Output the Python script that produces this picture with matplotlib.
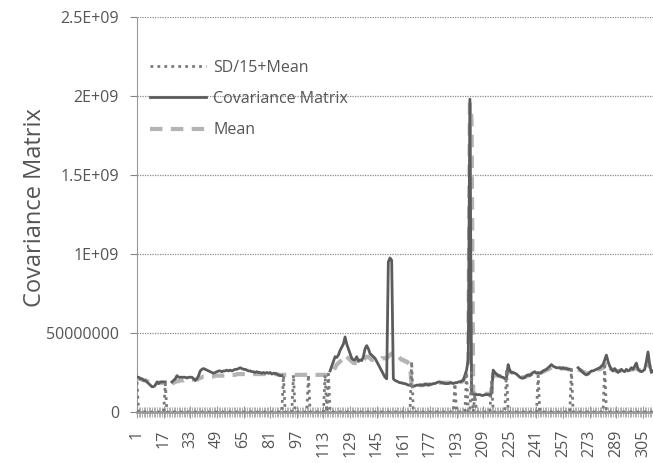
import numpy as np
import matplotlib
matplotlib.use('Agg')
import matplotlib.pyplot as plt

nan = np.nan

# covariance matrix value per window (units of 1e8)
cov = [
    2.2, 2.2, 2.1, 2.1, 2.0, 2.0, 1.9, 1.8, 1.7, 1.6,        # 1
    1.6, 1.7, 1.9, 1.8, 1.9, 1.9, 1.9, 1.9, nan, nan,        # 11
    nan, 1.9, 2.0, 2.1, 2.3, 2.2, 2.2, 2.2, 2.2, 2.2,        # 21
    2.15, 2.2, 2.2, 2.2, 2.1, 2.0, 2.1, 2.3, 2.6, 2.7,       # 31
    2.75, 2.7, 2.65, 2.6, 2.55, 2.5, 2.45, 2.5, 2.55, 2.6,   # 41
    2.6, 2.55, 2.6, 2.6, 2.65, 2.6, 2.65, 2.6, 2.65, 2.7,    # 51
    2.7, 2.75, 2.8, 2.75, 2.7, 2.7, 2.65, 2.6, 2.6, 2.55,    # 61
    2.55, 2.5, 2.55, 2.5, 2.5, 2.45, 2.5, 2.45, 2.5, 2.45,   # 71
    2.5, 2.4, 2.45, 2.45, 2.4, 2.35, 2.3, 2.3, nan, nan,     # 81
    nan, nan, nan, nan, nan, nan, nan, nan, nan, nan,        # 91
    nan, nan, nan, nan, nan, nan, nan, nan, nan, nan,        # 101
    nan, nan, nan, nan, nan, nan, 2.6, 2.9, 3.2, 3.5,        # 111
    3.45, 3.6, 3.9, 4.1, 4.3, 4.75, 4.3, 4.0, 3.7, 3.4,      # 121
    3.3, 3.3, 3.5, 3.2, 3.3, 3.25, 3.5, 4.0, 4.2, 4.0,       # 131
    3.7, 3.6, 3.5, 3.4, 3.2, 3.0, 2.8, 2.6, 2.4, 2.2,        # 141
    2.1, 9.5, 9.75, 9.6, 2.1, 2.0, 1.95, 1.9, 1.85, 1.85,    # 151
    1.8, 1.8, 1.75, 1.7, 1.7, 1.65, 1.65, 1.65, 1.7, 1.7,    # 161
    1.7, 1.7, 1.7, 1.75, 1.75, 1.7, 1.75, 1.75, 1.8, 1.8,    # 171
    1.85, 1.9, 1.9, 1.85, 1.85, 1.8, 1.8, 1.8, 1.85, 1.85,   # 181
    1.8, 1.85, 1.85, 1.9, 1.9, 1.95, 2.0, 2.3, 2.65, 3.3,    # 191
    19.8, 1.2, 1.15, 1.1, 1.1, 1.1, 1.1, 1.05, 1.05, 1.1,    # 201
    1.1, 1.1, 1.05, 1.2, 2.65, 2.5, 2.4, 2.3, 2.3, 2.2,      # 211
    2.2, 2.1, 2.2, 3.0, 2.6, 2.5, 2.5, 2.45, 2.4, 2.3,       # 221
    2.2, 2.15, 2.15, 2.2, 2.3, 2.35, 2.3, 2.4, 2.5, 2.55,    # 231
    2.45, 2.5, 2.45, 2.5, 2.6, 2.65, 2.7, 2.8, 2.9, 3.0,     # 241
    2.9, 2.85, 2.8, 2.8, 2.8, 2.75, 2.8, 2.75, 2.75, 2.7,    # 251
    2.7, nan, nan, nan, nan, 2.8, 2.7, 2.6, 2.5, 2.4,        # 261
    2.35, 2.4, 2.5, 2.6, 2.6, 2.65, 2.7, 2.75, 2.8, 2.9,     # 271
    3.0, 3.3, 3.6, 3.2, 2.9, 2.7, 2.6, 2.75, 2.6, 2.5,       # 281
    2.6, 2.7, 2.6, 2.55, 2.7, 2.6, 2.65, 2.8, 2.7, 2.9,      # 291
    3.1, 2.7, 2.6, 2.55, 2.6, 2.7, 3.2, 3.8, 3.0, 2.5,       # 301
    2.6,                                                     # 311
]

mean = [
    2.1, 2.1, 2.1, 2.05, 2.0, 2.0, 1.95, 1.9, 1.85, 1.85,
    1.85, 1.85, 1.85, 1.85, 1.85, 1.85, 1.85, 1.85, nan, nan,
    nan, 1.8, 1.85, 1.9, 1.95, 1.95, 2.0, 2.0, 2.0, 2.05,
    2.05, 2.05, 2.05, 2.05, 2.05, 2.05, 2.05, 2.1, 2.15, 2.2,
    2.25, 2.25, 2.25, 2.25, 2.25, 2.25, 2.25, 2.3, 2.3, 2.3,
    2.3, 2.3, 2.3, 2.3, 2.35, 2.35, 2.35, 2.35, 2.35, 2.35,
    2.4, 2.4, 2.4, 2.4, 2.4, 2.4, 2.4, 2.4, 2.4, 2.4,
    2.4, 2.4, 2.4, 2.4, 2.4, 2.4, 2.4, 2.4, 2.4, 2.4,
    2.4, 2.4, 2.4, 2.4, 2.4, 2.35, 2.35, 2.35, 2.35, 2.35,
    2.35, 2.35, 2.35, 2.35, 2.35, 2.35, 2.35, 2.35, 2.35, 2.35,
    2.35, 2.35, 2.35, 2.35, 2.35, 2.35, 2.35, 2.35, 2.35, 2.35,
    2.35, 2.35, 2.35, 2.35, 2.35, 2.35, 2.4, 2.5, 2.6, 2.8,
    3.0, 3.1, 3.2, 3.3, 3.4, 3.6, 3.5, 3.4, 3.3, 3.2,
    3.1, 3.1, 3.1, 3.1, 3.1, 3.2, 3.3, 3.4, 3.5, 3.5,
    3.4, 3.3, 3.3, 3.3, 3.3, 3.3, 3.3, 3.4, 3.4, 3.4,
    3.4, 3.5, 3.6, 3.7, 3.7, 3.7, 3.6, 3.5, 3.4, 3.3,
    3.3, 3.2, 3.2, 3.1, 3.0, 1.7, 1.7, 1.7, 1.7, 1.7,
    1.7, 1.7, 1.7, 1.75, 1.75, 1.75, 1.75, 1.75, 1.8, 1.8,
    1.8, 1.85, 1.85, 1.85, 1.85, 1.85, 1.85, 1.85, 1.85, 1.85,
    1.85, 1.85, 1.85, 1.85, 1.9, 1.9, 2.0, 2.2, 2.5, 2.8,
    19.5, 18.5, 1.15, 1.15, 1.15, 1.15, 1.15, 1.15, 1.15, 1.15,
    1.15, 1.15, 1.15, 1.3, 2.4, 2.4, 2.3, 2.3, 2.25, 2.2,
    2.2, 2.2, 2.2, 2.7, 2.6, 2.5, 2.45, 2.4, 2.35, 2.3,
    2.25, 2.2, 2.2, 2.2, 2.25, 2.3, 2.35, 2.4, 2.45, 2.5,
    2.45, 2.45, 2.45, 2.5, 2.55, 2.6, 2.65, 2.7, 2.75, 2.85,
    2.85, 2.8, 2.8, 2.8, 2.8, 2.75, 2.75, 2.75, 2.75, 2.7,
    2.7, nan, nan, nan, nan, 2.7, 2.65, 2.6, 2.55, 2.5,
    2.45, 2.45, 2.5, 2.55, 2.6, 2.6, 2.65, 2.7, 2.7, 2.75,
    2.8, 3.0, 3.2, 3.0, 2.8, 2.7, 2.65, 2.65, 2.6, 2.6,
    2.6, 2.6, 2.6, 2.6, 2.6, 2.6, 2.65, 2.7, 2.7, 2.75,
    2.8, 2.7, 2.65, 2.6, 2.6, 2.6, 2.8, 3.2, 2.9, 2.6,
    2.6,
]

# SD/15+Mean sits on zero except at these windows
sd_windows = [1, 18, 89, 95, 104, 114, 116, 166, 192, 199, 202, 204, 214, 223, 242, 262, 282]
sd_values = [1.9, 1.8, 2.3, 2.35, 2.35, 2.35, 2.4, 3.2, 1.8, 2.5, 2.5, 1.1, 2.0, 2.7, 2.3, 2.7, 2.9]

yticks = [0, 5e8, 1e9, 1.5e9, 2e9, 2.5e9]
ytick_labels = ['0', '50000000', '1E+09', '1.5E+09', '2E+09', '2.5E+09']
xtick_pos = list(range(1, 306, 16))

scale = 1e8
x = np.arange(1, len(cov) + 1)
cov_y = np.array(cov) * scale
mean_y = np.array(mean) * scale
sd_y = np.zeros(len(cov))
for w, v in zip(sd_windows, sd_values):
    sd_y[w - 1] = v * scale

plt.rcParams['font.family'] = ['Open Sans', 'DejaVu Sans']
txt = '#555555'

fig = plt.figure(figsize=(6.53, 4.63), dpi=100)
ax = fig.add_axes([137/653, 1 - 412/463, 1 - 137/653, (412 - 17)/463])

ax.plot(x, mean_y, color='#b4b4b4', lw=3, linestyle=(0, (3, 2)), label='Mean', zorder=3)
ax.plot(x, cov_y, color='#5c5c5c', lw=2, label='Covariance Matrix', zorder=4)
ax.plot(x, sd_y, color='#7a7a7a', lw=2, linestyle=(0, (1, 1.5)), label='SD/15+Mean', zorder=5)

ax.set_xlim(1, 311)
ax.set_ylim(0, 2.5e9)
ax.set_yticks(yticks)
ax.set_yticklabels(ytick_labels, fontsize=11.5, color=txt)
ax.set_xticks(xtick_pos)
ax.set_xticklabels([str(p) for p in xtick_pos], rotation=90, fontsize=11.5, color=txt)
ax.set_xticks(x, minor=True)

ax.grid(axis='y', color='#8a8a8a', lw=0.9, linestyle=(0, (1, 1)))
for s in ['top', 'right']:
    ax.spines[s].set_visible(False)
ax.spines['left'].set_color('#9a9a9a')
ax.spines['left'].set_linestyle((0, (1, 1)))
ax.spines['bottom'].set_color('#9a9a9a')
ax.spines['bottom'].set_linewidth(2)
ax.tick_params(axis='y', direction='out', length=5, color='#888888', pad=8)
ax.tick_params(axis='x', which='major', direction='inout', length=8, color='#9a9a9a', pad=9)
ax.tick_params(axis='x', which='minor', direction='inout', length=7, color='#b0b0b0', width=0.7)

fig.text(35/653, 1 - 208/463, 'Covariance Matrix', rotation=90, ha='center', va='center',
         fontsize=17, color=txt)

h, l = ax.get_legend_handles_labels()
order = [2, 1, 0]
leg = ax.legend([h[i] for i in order], [l[i] for i in order], loc='upper left',
                bbox_to_anchor=(0.01, 0.912), frameon=False, fontsize=11.5,
                handlelength=3.5, handletextpad=0.45, labelspacing=0.95, borderpad=0)
for t in leg.get_texts():
    t.set_color(txt)

fig.savefig('out.png', dpi=100)
